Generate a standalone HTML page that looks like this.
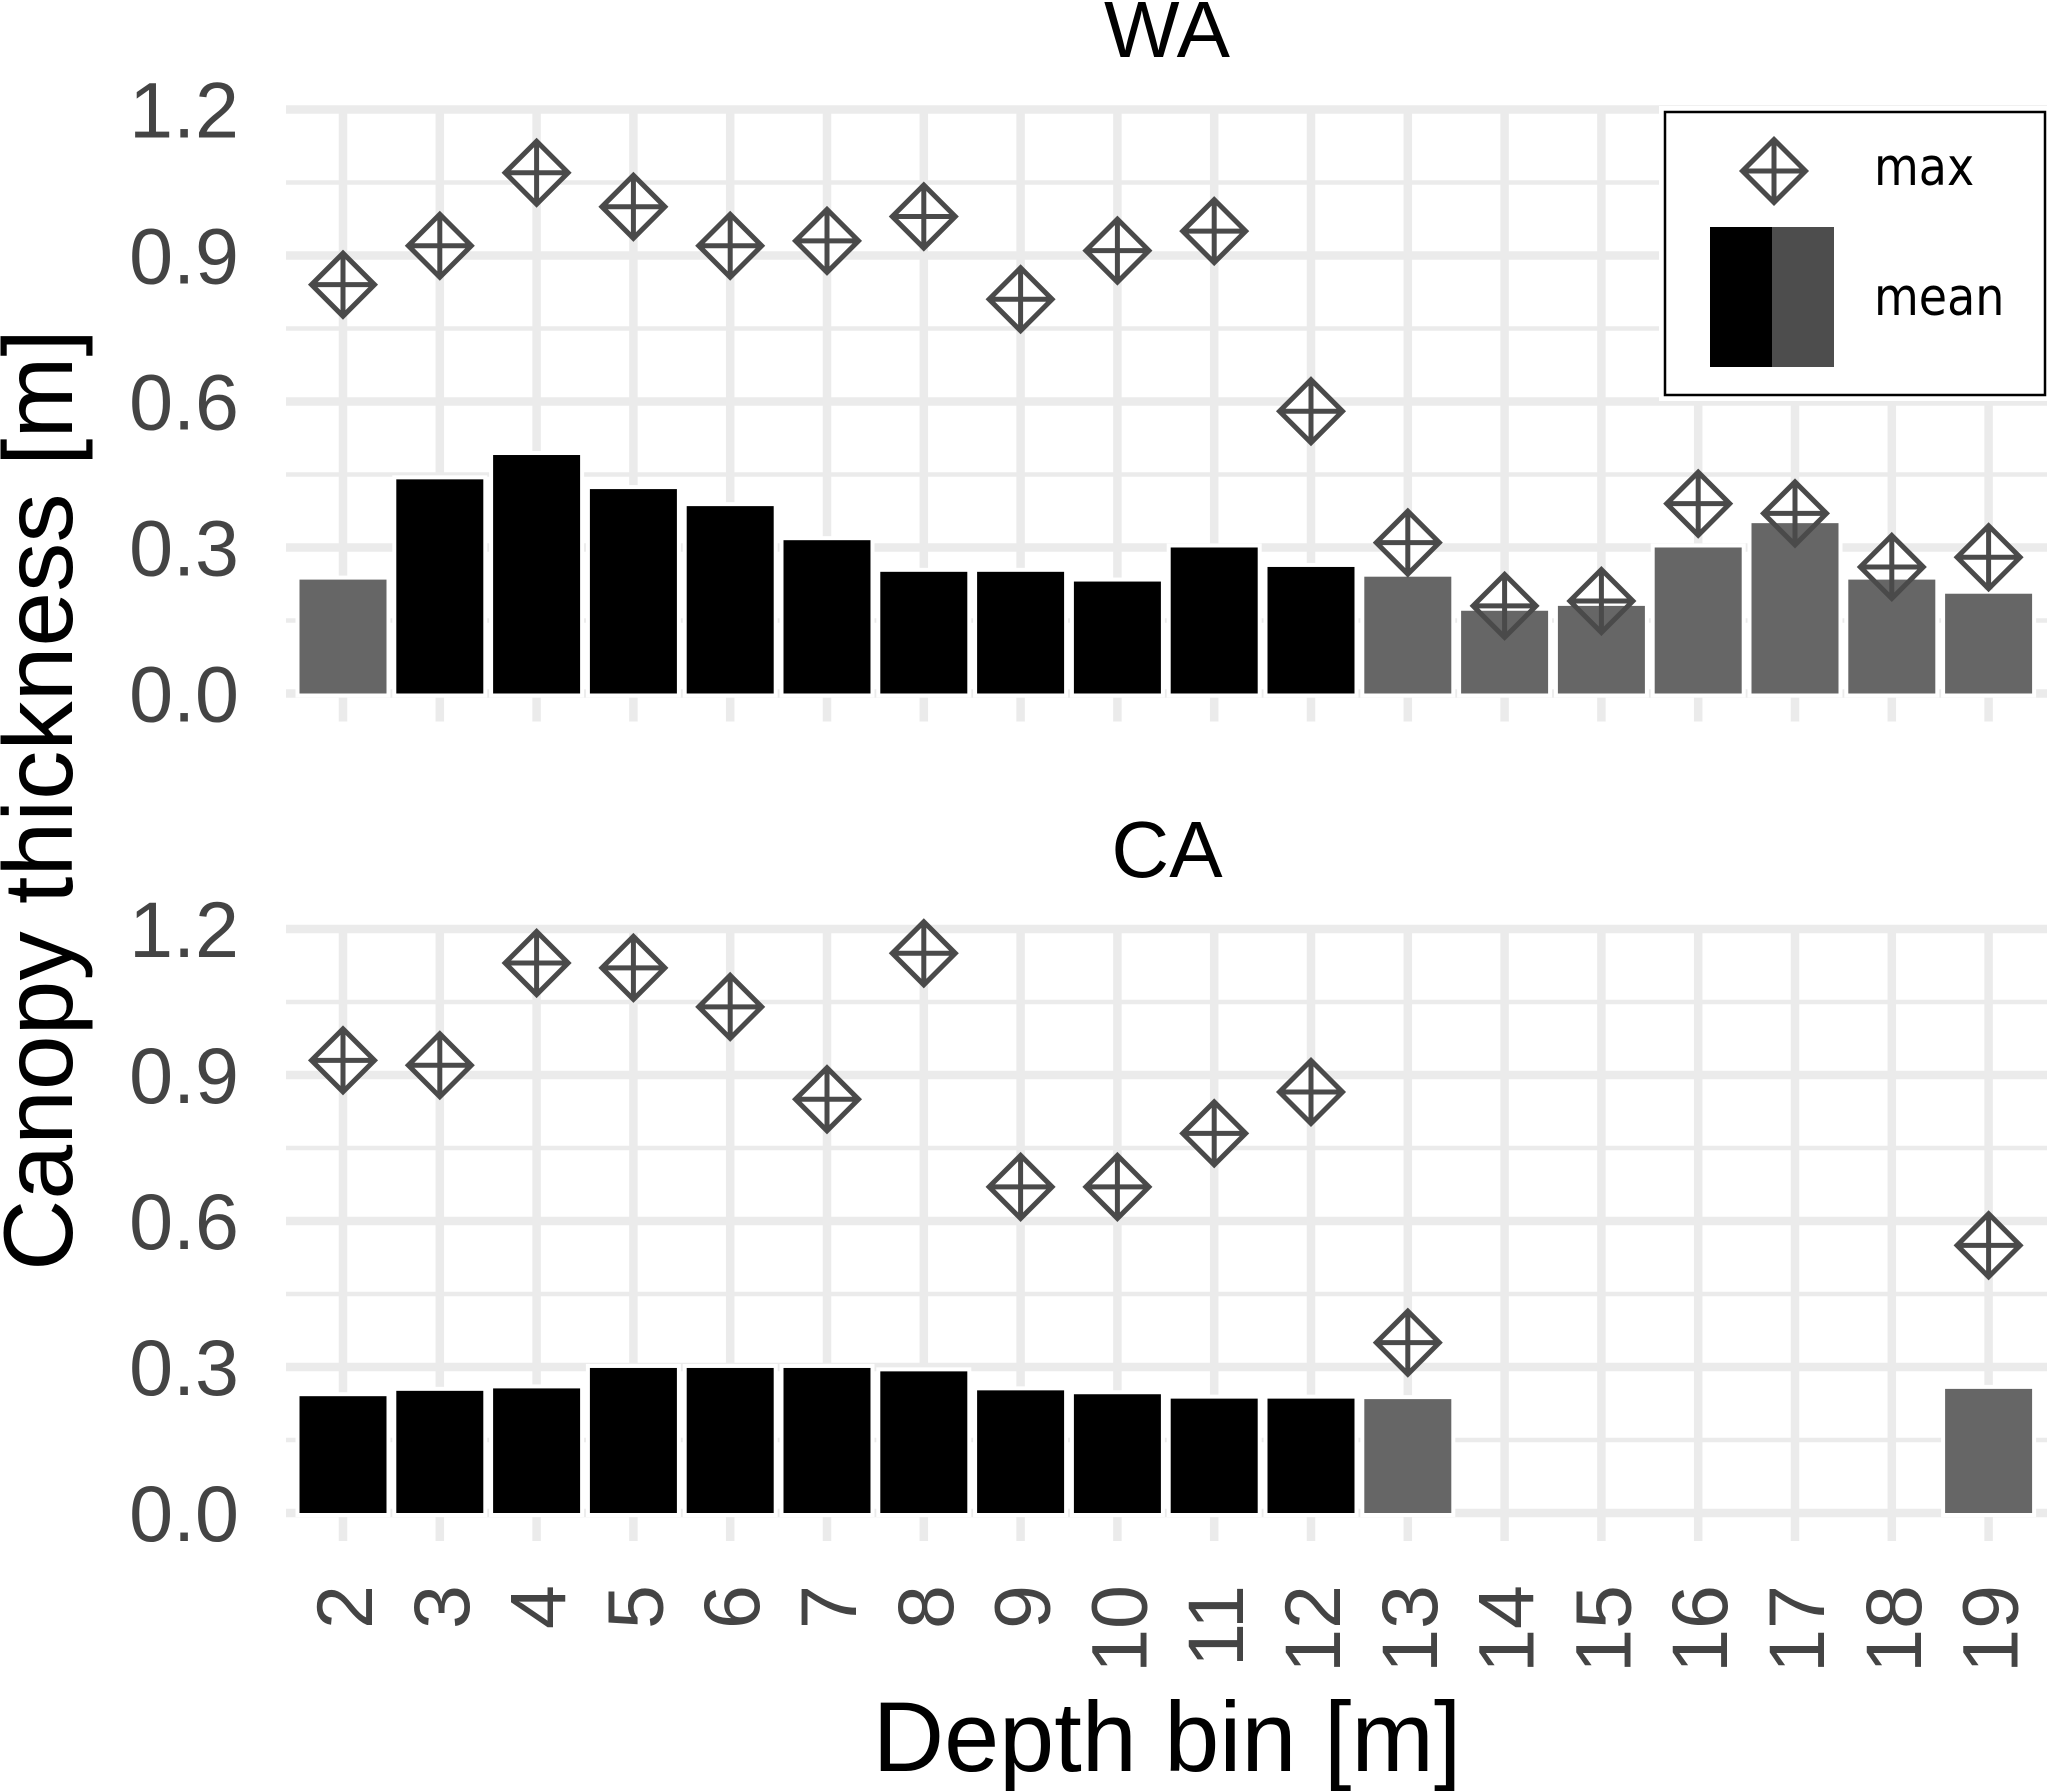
<!DOCTYPE html>
<html lang="en">
<head>
<meta charset="utf-8">
<title>Canopy thickness by depth bin</title>
<style>
  html, body { margin: 0; padding: 0; background: #fff; }
  svg { display: block; }
  text { font-family: "Liberation Sans", Arial, sans-serif; }
</style>
</head>
<body>
<svg id="chart" xmlns="http://www.w3.org/2000/svg" width="2047" height="1791" viewBox="0 0 2047 1791">
  <rect x="0" y="0" width="2047" height="1791" fill="#ffffff"/>
  <g id="plot-layer"></g>
  <text x="1167" y="57" font-size="80" text-anchor="middle" fill="#000">WA</text>
  <text x="1167" y="877" font-size="80" text-anchor="middle" fill="#000">CA</text>
  <text transform="translate(72 800) rotate(-90)" font-size="98.5" text-anchor="middle" fill="#000">Canopy thickness [m]</text>
  <text x="1167" y="1771" font-size="99" text-anchor="middle" fill="#000">Depth bin [m]</text>
  <g>
    <rect x="1659" y="106" width="388" height="295" fill="#fff"/>
    <rect x="1665" y="112" width="380" height="283" fill="#fff" stroke="#000" stroke-width="2.5"/>
    <path d="M1774 139.5 L1805.5 171 L1774 202.5 L1742.5 171 Z M1774 139.5 V202.5 M1742.5 171 H1805.5" fill="none" stroke="#4a4a4a" stroke-width="5" stroke-linejoin="miter"/>
    <rect x="1710" y="227" width="62" height="140" fill="#000"/>
    <rect x="1772" y="227" width="62" height="140" fill="#4d4d4d"/>
    <text transform="translate(1874 185) scale(1 1.15)" font-size="46" fill="#000" style="font-family:'DejaVu Sans',sans-serif">max</text>
    <text transform="translate(1874 315) scale(1 1.15)" font-size="46" fill="#000" style="font-family:'DejaVu Sans',sans-serif">mean</text>
  </g>
</svg>
<script>
const depthBins = ['2','3','4','5','6','7','8','9','10','11','12','13','14','15','16','17','18','19'];
const yTickValues = [0, 0.3, 0.6, 0.9, 1.2];
const yTickLabels = ['0.0', '0.3', '0.6', '0.9', '1.2'];
const yMinorValues = [0.15, 0.45, 0.75, 1.05];
const waMean = [0.234, 0.44, 0.49, 0.42, 0.385, 0.315, 0.25, 0.25, 0.23, 0.30, 0.26, 0.24, 0.17, 0.18, 0.30, 0.35, 0.234, 0.205];
const waMax = [0.84, 0.92, 1.07, 1.00, 0.92, 0.93, 0.98, 0.81, 0.91, 0.95, 0.58, 0.31, 0.18, 0.19, 0.39, 0.37, 0.26, 0.28];
const waGroup = ['b','a','a','a','a','a','a','a','a','a','a','b','b','b','b','b','b','b'];
const caMean = [0.24, 0.251, 0.256, 0.298, 0.298, 0.298, 0.291, 0.252, 0.244, 0.235, 0.235, 0.234, null, null, null, null, null, 0.255];
const caMax = [0.93, 0.92, 1.13, 1.12, 1.04, 0.85, 1.15, 0.67, 0.67, 0.78, 0.865, 0.35, null, null, null, null, null, 0.55];
const caGroup = ['a','a','a','a','a','a','a','a','a','a','a','b','b','b','b','b','b','b'];

const NS = 'http://www.w3.org/2000/svg';
const layer = document.getElementById('plot-layer');
const xLeft = 286, xRight = 2047, x0 = 343, xStep = 96.8, barW = 87, pxPerUnit = 486.7;
const groupColor = { a: '#000000', b: '#666666' };
const xScale = i => x0 + i * xStep;

function make(tag, attrs, parent) {
  const el = document.createElementNS(NS, tag);
  for (const k in attrs) el.setAttribute(k, attrs[k]);
  parent.appendChild(el);
  return el;
}

function drawPanel(panelId, baseY, means, maxes, groups) {
  const yScale = v => baseY - v * pxPerUnit;
  const g = make('g', {}, layer);
  
  

  yMinorValues.forEach(v => {
    const l = make('line', { x1: xLeft, x2: xRight, y1: yScale(v), y2: yScale(v), stroke: '#ebebeb', 'stroke-width': 4.5 }, g);
    
    
  });
  yTickValues.forEach(v => {
    const l = make('line', { x1: xLeft, x2: xRight, y1: yScale(v), y2: yScale(v), stroke: '#ebebeb', 'stroke-width': 8.5 }, g);
    
    
  });
  depthBins.forEach((b, i) => {
    const l = make('line', { x1: xScale(i), x2: xScale(i), y1: yScale(1.2), y2: baseY + 28, stroke: '#ebebeb', 'stroke-width': 8.5 }, g);
    
    
  });
  yTickValues.forEach((v, i) => {
    const t = make('text', { x: 239, y: yScale(v) + 28, 'font-size': 79, 'text-anchor': 'end', fill: '#444444' }, g);
    t.textContent = yTickLabels[i];
    
    
  });

  const diamond = (cx, cy, cross) => {
    const h = 31.5;
    const outline = 'M' + cx + ' ' + (cy - h) + ' L' + (cx + h) + ' ' + cy + ' L' + cx + ' ' + (cy + h) + ' L' + (cx - h) + ' ' + cy + ' Z';
    return cross ? outline + ' M' + cx + ' ' + (cy - h) + ' V' + (cy + h) + ' M' + (cx - h) + ' ' + cy + ' H' + (cx + h) : outline;
  };

  maxes.forEach((v, i) => {
    if (v === null) return;
    const p = make('path', { d: diamond(xScale(i), yScale(v), false), fill: '#ffffff' }, g);
    
    
  });
  means.forEach((v, i) => {
    if (v === null) return;
    const r = make('rect', {
      x: xScale(i) - barW / 2, y: yScale(v), width: barW, height: baseY - yScale(v),
      fill: groupColor[groups[i]], stroke: '#ffffff', 'stroke-width': 8, 'paint-order': 'stroke'
    }, g);
    
    
  });
  maxes.forEach((v, i) => {
    if (v === null) return;
    const p = make('path', { d: diamond(xScale(i), yScale(v), true), fill: 'none', stroke: '#4a4a4a', 'stroke-width': 5 }, g);
    
    
  });
}

drawPanel('wa', 693.5, waMean, waMax, waGroup);
drawPanel('ca', 1513, caMean, caMax, caGroup);

depthBins.forEach((b, i) => {
  const t = make('text', {
    transform: 'translate(' + (xScale(i) + 29) + ' 1585) rotate(-90)',
    'font-size': 79, 'text-anchor': 'end', fill: '#444444'
  }, layer);
  t.textContent = b;
  
  
});
</script>
</body>
</html>
